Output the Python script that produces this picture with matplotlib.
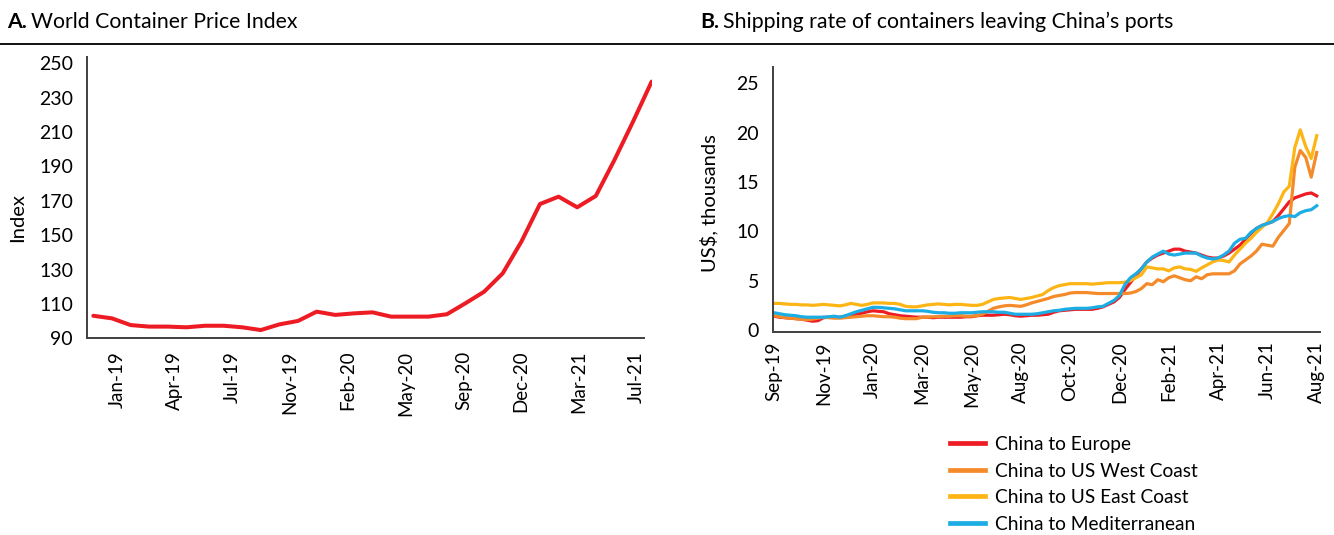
import matplotlib
matplotlib.use("Agg")
import matplotlib.pyplot as plt
import numpy as np

plt.rcParams['font.family'] = ['Lato', 'DejaVu Sans']

# Panel A: World Container Price Index (monthly-ish points)
wcpi = [103.1, 101.6, 97.7, 96.8, 96.8, 96.4, 97.3, 97.3, 96.4, 94.8,
        98.1, 100.1, 105.5, 103.6, 104.5, 105.1, 102.6, 102.6, 102.6, 104.0,
        110.4, 117.1, 127.8, 146.2, 168.1, 172.4, 166.2, 172.8, 193.7, 216.0,
        239.3]
a_ticklabels = ["Jan-19", "Apr-19", "Jul-19", "Nov-19", "Feb-20", "May-20",
                "Sep-20", "Dec-20", "Mar-21", "Jul-21"]
a_yticks = [90, 110, 130, 150, 170, 190, 210, 230, 250]

# Panel B: weekly shipping rates, US$ thousands
europe = [1.4, 1.3, 1.25, 1.2, 1.15, 1.1, 1.0, 0.9, 0.95, 1.25,
          1.3, 1.3, 1.3, 1.4, 1.5, 1.6, 1.7, 1.85, 1.95, 1.9,
          1.85, 1.65, 1.55, 1.45, 1.4, 1.35, 1.3, 1.3, 1.3, 1.25,
          1.3, 1.3, 1.3, 1.3, 1.3, 1.35, 1.35, 1.45, 1.5, 1.5,
          1.5, 1.55, 1.6, 1.55, 1.45, 1.4, 1.45, 1.5, 1.5, 1.55,
          1.6, 1.8, 1.95, 2.0, 2.05, 2.1, 2.1, 2.1, 2.1, 2.2,
          2.35, 2.6, 2.85, 3.3, 4.1, 4.8, 5.5, 6.2, 6.9, 7.3,
          7.6, 7.8, 8.0, 8.2, 8.2, 8.0, 7.9, 7.8, 7.6, 7.4,
          7.3, 7.3, 7.5, 7.8, 8.2, 8.6, 9.2, 9.8, 10.3, 10.6,
          10.8, 11.0, 11.6, 12.3, 13.0, 13.4, 13.6, 13.8, 13.9, 13.6]
us_west = [1.45, 1.35, 1.25, 1.2, 1.15, 1.1, 1.05, 1.1, 1.2, 1.3,
           1.25, 1.2, 1.2, 1.25, 1.3, 1.35, 1.4, 1.45, 1.45, 1.4,
           1.35, 1.35, 1.3, 1.2, 1.15, 1.15, 1.15, 1.3, 1.3, 1.35,
           1.35, 1.4, 1.4, 1.45, 1.45, 1.4, 1.4, 1.45, 1.6, 1.9,
           2.2, 2.35, 2.45, 2.5, 2.45, 2.4, 2.55, 2.75, 2.9, 3.05,
           3.2, 3.4, 3.5, 3.6, 3.75, 3.8, 3.8, 3.8, 3.75, 3.7,
           3.7, 3.7, 3.7, 3.7, 3.7, 3.75, 3.9, 4.2, 4.7, 4.6,
           5.1, 4.9, 5.3, 5.5, 5.3, 5.1, 5.0, 5.4, 5.2, 5.6,
           5.7, 5.7, 5.7, 5.7, 6.0, 6.7, 7.1, 7.5, 8.0, 8.7,
           8.6, 8.5, 9.4, 10.1, 10.8, 16.5, 18.2, 17.5, 15.5, 18.0]
us_east = [2.7, 2.7, 2.65, 2.6, 2.6, 2.55, 2.55, 2.5, 2.55, 2.6,
           2.55, 2.5, 2.45, 2.55, 2.7, 2.6, 2.5, 2.6, 2.75, 2.75,
           2.75, 2.7, 2.7, 2.6, 2.4, 2.35, 2.35, 2.45, 2.55, 2.6,
           2.65, 2.6, 2.55, 2.6, 2.6, 2.55, 2.5, 2.5, 2.6, 2.85,
           3.1, 3.2, 3.25, 3.3, 3.2, 3.1, 3.2, 3.3, 3.45, 3.6,
           4.0, 4.3, 4.5, 4.6, 4.7, 4.7, 4.7, 4.7, 4.65, 4.7,
           4.75, 4.8, 4.8, 4.8, 4.85, 5.0, 5.3, 5.6, 6.4, 6.3,
           6.2, 6.2, 6.0, 6.3, 6.4, 6.2, 6.15, 5.95, 6.3, 6.6,
           6.9, 7.1, 7.05, 6.9, 7.6, 8.2, 8.8, 9.3, 9.9, 10.4,
           10.9, 11.8, 12.8, 14.0, 14.6, 18.5, 20.3, 18.6, 17.4, 19.7]
mediterranean = [1.75, 1.65, 1.55, 1.5, 1.45, 1.35, 1.3, 1.3, 1.3, 1.3,
                 1.35, 1.4, 1.3, 1.45, 1.65, 1.85, 2.0, 2.15, 2.3, 2.3,
                 2.25, 2.2, 2.15, 2.05, 1.95, 1.95, 1.95, 1.95, 1.9, 1.8,
                 1.75, 1.75, 1.7, 1.7, 1.75, 1.75, 1.75, 1.8, 1.85, 1.85,
                 1.85, 1.8, 1.8, 1.7, 1.6, 1.6, 1.6, 1.6, 1.65, 1.75,
                 1.85, 1.95, 2.0, 2.1, 2.15, 2.2, 2.2, 2.2, 2.25, 2.35,
                 2.4, 2.7, 3.0, 3.5, 4.6, 5.3, 5.7, 6.2, 6.9, 7.4,
                 7.7, 8.0, 7.7, 7.6, 7.7, 7.8, 7.8, 7.8, 7.5, 7.3,
                 7.2, 7.3, 7.6, 8.0, 8.8, 9.2, 9.3, 9.9, 10.3, 10.6,
                 10.8, 11.0, 11.3, 11.5, 11.6, 11.5, 11.9, 12.1, 12.2, 12.6]
b_ticklabels = ["Sep-19", "Nov-19", "Jan-20", "Mar-20", "May-20", "Aug-20",
                "Oct-20", "Dec-20", "Feb-21", "Apr-21", "Jun-21", "Aug-21"]
b_yticks = [0, 5, 10, 15, 20, 25]
series_names = ["China to Europe", "China to US West Coast",
                "China to US East Coast", "China to Mediterranean"]

colors = ["#ED1C24", "#F58A2A", "#FDB515", "#1CADE4"]
axis_col = "#404040"

fig = plt.figure(figsize=(13.34, 5.35), dpi=100)

def style_axis(ax):
    for s in ["top", "right"]:
        ax.spines[s].set_visible(False)
    for s in ["left", "bottom"]:
        ax.spines[s].set_color(axis_col)
        ax.spines[s].set_linewidth(1.4)
    ax.tick_params(length=0)

# ---- Panel A
axA = fig.add_axes([87 / 1334, 1 - 338.3 / 535, (652 - 87) / 1334, (338.3 - 56.7) / 535])
xa = np.arange(len(wcpi))
axA.plot(xa, wcpi, color=colors[0], lw=2.9, solid_capstyle="round")
axA.set_xlim(-0.34, 30.02)
axA.set_ylim(90, 253.8)
axA.spines["bottom"].set_bounds(-0.34, 29.57)
axA.set_yticks(a_yticks)
axA.set_yticklabels([str(v) for v in a_yticks], fontsize=14)
axA.set_xticks(np.linspace(1.27, 29.2, len(a_ticklabels)))
axA.set_xticklabels(a_ticklabels, rotation=90, fontsize=13.5)
style_axis(axA)
axA.tick_params(axis="y", pad=10)
axA.tick_params(axis="x", pad=9)
axA.set_ylabel("Index", fontsize=14.5)
axA.yaxis.set_label_coords(-0.108, 0.43)

# ---- Panel B
axB = fig.add_axes([773 / 1334, 1 - 331.7 / 535, (1320 - 773) / 1334, (331.7 - 66.7) / 535])
xb = np.arange(len(europe))
for vals, c, name in zip([europe, us_west, us_east, mediterranean], colors, series_names):
    axB.plot(xb, vals, color=c, lw=2.3, label=name)
axB.set_xlim(-0.2, 99.6)
axB.set_ylim(-0.17, 26.7)
axB.set_yticks(b_yticks)
axB.set_yticklabels([str(v) for v in b_yticks], fontsize=14)
axB.set_xticks(np.arange(0, 9 * len(b_ticklabels), 9))
axB.set_xticklabels(b_ticklabels, rotation=90, fontsize=13.5)
style_axis(axB)
axB.tick_params(axis="y", pad=10)
axB.tick_params(axis="x", pad=7)
axB.set_ylabel("US$, thousands", fontsize=14.5)
axB.yaxis.set_label_coords(-0.1, 0.486)

leg = fig.legend(loc="upper left", bbox_to_anchor=(950 / 1334, 1 - 436 / 535),
                 frameon=False, fontsize=13.8, handlelength=1.85, handletextpad=0.5,
                 labelspacing=0.5, borderaxespad=0, borderpad=0)
for h in leg.get_lines():
    h.set_linewidth(3.4)

# ---- Titles and rule
fig.add_artist(plt.Line2D([0, 1], [1 - 43.5 / 535, 1 - 43.5 / 535], color="black", lw=1.3))

def title(x, bold, rest):
    t = fig.text(x / 1334, 1 - 21.7 / 535, bold, fontsize=15.3, fontweight="bold", va="center")
    fig.canvas.draw()
    bb = t.get_window_extent()
    fig.text((bb.x1 + 4) / 1334, 1 - 21.7 / 535, rest, fontsize=15.3, va="center")

title(7, "A.", "World Container Price Index")
title(700, "B.", "Shipping rate of containers leaving China\u2019s ports")

fig.savefig("out.png", dpi=100)
